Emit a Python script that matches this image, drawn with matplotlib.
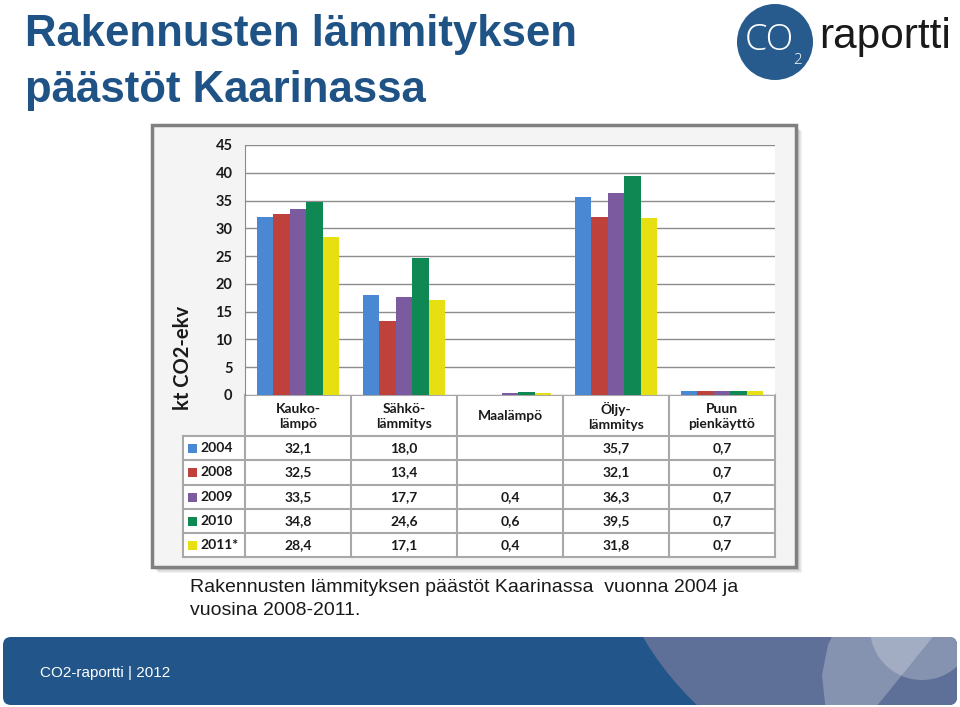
import numpy as np
import matplotlib
matplotlib.use('Agg')
import matplotlib.pyplot as plt
from matplotlib.patches import Rectangle, Circle, FancyBboxPatch, Polygon

# data
categories = ['Kauko-\nlämpö', 'Sähkö-\nlämmitys', 'Maalämpö', 'Öljy-\nlämmitys', 'Puun\npienkäyttö']
years = ['2004', '2008', '2009', '2010', '2011*']
v2004 = [32.1, 18.0, np.nan, 35.7, 0.7]
v2008 = [32.5, 13.4, np.nan, 32.1, 0.7]
v2009 = [33.5, 17.7, 0.4, 36.3, 0.7]
v2010 = [34.8, 24.6, 0.6, 39.5, 0.7]
v2011 = [28.4, 17.1, 0.4, 31.8, 0.7]
series = [v2004, v2008, v2009, v2010, v2011]
colors = ['#4a88d4', '#be413c', '#7b5aa0', '#108854', '#e6df12']
yticks = [0, 5, 10, 15, 20, 25, 30, 35, 40, 45]

title_lines = ['Rakennusten lämmityksen', 'päästöt Kaarinassa']
caption = ['Rakennusten lämmityksen päästöt Kaarinassa  vuonna 2004 ja',
           'vuosina 2008-2011.']
footer = 'CO2-raportti | 2012'

chart_font = ['Lato', 'DejaVu Sans']
arial = ['Liberation Sans', 'DejaVu Sans']

fig = plt.figure(figsize=(9.6, 7.07), dpi=100)
bg = fig.add_axes([0, 0, 1, 1])
bg.set_xlim(0, 960)
bg.set_ylim(707, 0)
bg.axis('off')

# title
blue = '#1f5285'
bg.text(25, 46, title_lines[0], fontsize=31.5, fontweight='bold', color=blue,
        family=arial, va='baseline')
bg.text(25, 102, title_lines[1], fontsize=31.5, fontweight='bold', color=blue,
        family=arial, va='baseline')

# logo
bg.add_patch(Circle((775, 42), 38, fc='#275b8e', ec='none'))
bg.text(769, 40, 'CO', color='white', fontsize=26, fontweight='light',
        family=['Open Sans', 'DejaVu Sans'], ha='center', va='center')
bg.text(797, 61, '2', color='white', fontsize=11, fontweight='light',
        family=['Open Sans', 'DejaVu Sans'], ha='center', va='center')
bg.text(819, 48, 'raportti', color='#1a1a1a', fontsize=30.5,
        family=arial, va='baseline')

# chart frame with shadow
for k in range(1, 7):
    bg.add_patch(Rectangle((152 + k, 125 + k), 644, 442, fc='black', ec='none', alpha=0.05))
bg.add_patch(Rectangle((152, 125), 644, 442, fc='#f4f4f4', ec='#808080', lw=2.5))

# bar chart
L, R, T, B = 245, 775, 145, 395
ax = fig.add_axes([L / 960, 1 - B / 707, (R - L) / 960, (B - T) / 707])
ax.set_facecolor('white')
x = np.arange(len(categories))
w = 0.155
for i, (vals, c) in enumerate(zip(series, colors)):
    ax.bar(x + (i - 2) * w, vals, width=w, color=c, zorder=3)
ax.set_xlim(-0.5, 4.5)
ax.set_ylim(0, 45)
ax.set_yticks(yticks)
ax.set_xticks([])
ax.yaxis.grid(True, color='#8c8c8c', lw=1)
for s in ['top', 'right', 'bottom']:
    ax.spines[s].set_visible(False)
ax.spines['left'].set_color('#8c8c8c')
ax.tick_params(axis='y', length=0, pad=9, labelsize=10.5)
for lab in ax.get_yticklabels():
    lab.set_fontweight('bold')
    lab.set_family(chart_font)
    lab.set_color('#1a1a1a')

bg.text(183, 358, 'kt CO2-ekv', rotation=90, fontsize=14.5, fontweight='bold',
        family=chart_font, ha='center', va='center', color='#1a1a1a')

# data table below the chart
col_w = (R - L) / len(categories)
col_edges = [L + col_w * k for k in range(len(categories) + 1)]
row_edges = [436, 460, 485, 509, 533, 557]
lc = '#a8a8a8'
bg.add_patch(Rectangle((L, B), R - L, row_edges[0] - B, fc='white', ec='none'))
bg.add_patch(Rectangle((183, row_edges[0]), R - 183, row_edges[-1] - row_edges[0], fc='white', ec='none'))
bg.plot([L, R], [B, B], color=lc, lw=1.5)
for xe in col_edges:
    bg.plot([xe, xe], [B, row_edges[-1]], color=lc, lw=1.5)
bg.plot([183, 183], [row_edges[0], row_edges[-1]], color=lc, lw=1.5)
for ye in row_edges:
    bg.plot([183, R], [ye, ye], color=lc, lw=1.5)

for k, cat in enumerate(categories):
    cx = L + col_w * (k + 0.5)
    bg.text(cx, (B + row_edges[0]) / 2 + 1, cat, ha='center', va='center', fontsize=10,
            fontweight='bold', family=chart_font, color='#1a1a1a', linespacing=1.3)

for r, (yr, vals, c) in enumerate(zip(years, series, colors)):
    cy = (row_edges[r] + row_edges[r + 1]) / 2
    bg.add_patch(Rectangle((188, cy - 4.5), 9, 9, fc=c, ec='none'))
    bg.text(200, cy, yr, ha='left', va='center', fontsize=10, fontweight='bold',
            family=chart_font, color='#1a1a1a')
    for k, v in enumerate(vals):
        if np.isnan(v):
            continue
        cx = L + col_w * (k + 0.5)
        bg.text(cx, cy, f'{v:.1f}'.replace('.', ','), ha='center', va='center',
                fontsize=10, fontweight='bold', family=chart_font, color='#1a1a1a')

# caption
for i, line in enumerate(caption):
    bg.text(190, 592 + i * 23, line, fontsize=14, color='#1a1a1a',
            family=arial, va='baseline')

# footer band
band = FancyBboxPatch((3, 637), 954, 68, boxstyle='round,pad=0,rounding_size=8',
                      fc='#22568a', ec='none')
bg.add_patch(band)
deco = [Circle((908, 482), 307, fc='#5f7098', ec='none'),
        Polygon([(842, 615), (828, 645), (822, 675), (826, 712), (872, 712), (945, 622)],
                fc='white', alpha=0.24, ec='none'),
        Circle((922, 628), 52, fc='white', alpha=0.24, ec='none')]
for p in deco:
    bg.add_patch(p)
    p.set_clip_path(band)
bg.text(40, 673, footer, color='white', fontsize=11, family=arial, va='center')

fig.savefig('out.png', dpi=100)
